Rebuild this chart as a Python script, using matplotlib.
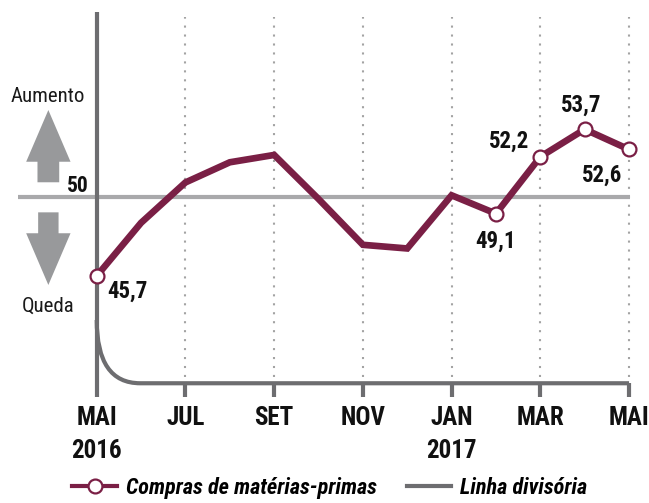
import matplotlib
matplotlib.use("Agg")
import matplotlib.pyplot as plt
from matplotlib import font_manager as fm
from matplotlib.patches import FancyArrow, PathPatch
from matplotlib.path import Path
from matplotlib.lines import Line2D

# procura uma fonte estreita instalada
available = {(f.name, f.stretch) for f in fm.fontManager.ttflist}
names = {n for n, s in available}
narrow_family = None
for fam in ['Liberation Sans Narrow', 'Roboto Condensed', 'Open Sans Condensed', 'Noto Sans Condensed']:
    if fam in names:
        narrow_family = fam
        break
condensed = [n for n, s in available if s in ('condensed', 'semi-condensed', 'extra-condensed')]
if narrow_family:
    plt.rcParams['font.family'] = [narrow_family, 'DejaVu Sans']
    scale = 1.0
elif condensed:
    plt.rcParams['font.family'] = [sorted(set(condensed))[0], 'DejaVu Sans']
    plt.rcParams['font.stretch'] = 'condensed'
    scale = 0.95
else:
    plt.rcParams['font.family'] = ['DejaVu Sans']
    scale = 0.78

# Dados (índice de compras de matérias-primas)
months = ['MAI', 'JUN', 'JUL', 'AGO', 'SET', 'OUT', 'NOV', 'DEZ', 'JAN', 'FEV', 'MAR', 'ABR', 'MAI']
values = [45.7, 48.6, 50.8, 51.9, 52.3, 49.9, 47.4, 47.2, 50.1, 49.1, 52.2, 53.7, 52.6]
years = {0: '2016', 8: '2017'}
marked = [0, 9, 10, 11, 12]
# deslocamento dos rótulos (px) e alinhamento
label_pos = {0: (11, -22, 'left'), 9: (0, -34, 'center'), 10: (-11, 9, 'right'),
             11: (-3, 18, 'center'), 12: (-7, -32, 'right')}
ref_level = 50

wine = '#7a1f45'
dark_gray = '#6d6d70'
light_gray = '#a9a9ab'
arrow_gray = '#98999b'

fig = plt.figure(figsize=(6.49, 5.03), dpi=100)
ax = fig.add_axes([0, 0, 1, 1])
ax.set_xlim(-2.18, 12.45)
ax.set_ylim(33.32, 60.75)
ax.axis('off')

x = list(range(len(months)))
base = 39.85
tick_bottom = 39.12

# linhas pontilhadas
for i in x[2::2]:
    ax.plot([i, i], [40.2, 59.8], color='#a3a3a3', lw=1.5, dashes=(1, 3.3), zorder=1)

# linha de 50
ax.plot([-1.77, 12.02], [ref_level, ref_level], color=light_gray, lw=3, solid_capstyle='butt', zorder=2)

# eixo vertical e curva inferior
ax.plot([0, 0], [60.08, tick_bottom], color=dark_gray, lw=3, solid_capstyle='butt', zorder=2)
frame = Path([(0, 43.3), (0, base), (0.98, base), (12, base)],
             [Path.MOVETO, Path.CURVE3, Path.CURVE3, Path.LINETO])
ax.add_patch(PathPatch(frame, facecolor='none', edgecolor=dark_gray, lw=3, zorder=2))
ax.vlines(x[2::2], tick_bottom, base, color=dark_gray, lw=3, zorder=2)

# setas
ax.add_patch(FancyArrow(-1.09, 50.81, 0, 3.94, width=0.49, head_width=1.0, head_length=2.82,
                        length_includes_head=True, color=arrow_gray, lw=0))
ax.add_patch(FancyArrow(-1.09, 49.17, 0, -3.96, width=0.46, head_width=1.0, head_length=2.82,
                        length_includes_head=True, color=arrow_gray, lw=0))
ax.text(-1.10, 55.19, 'Aumento', ha='center', va='baseline', fontsize=15 * scale, color='#1a1a1a')
ax.text(-1.10, 43.73, 'Queda', ha='center', va='baseline', fontsize=15 * scale, color='#1a1a1a')
ax.annotate('50', (0, ref_level), xytext=(-5.5, 3.6), textcoords='offset points',
            ha='right', va='baseline', fontsize=15.5 * scale, fontweight='bold', color='#111111')

# série
ax.plot(x, values, color=wine, lw=4.8, solid_joinstyle='miter', zorder=3)
ax.plot([x[i] for i in marked], [values[i] for i in marked], 'o', ms=10, mfc='white',
        mec=wine, mew=1.6, zorder=4)
for i in marked:
    dx, dy, ha = label_pos[i]
    ax.annotate(f'{values[i]:.1f}'.replace('.', ','), (x[i], values[i]),
                xytext=(dx * 0.72, dy * 0.72), textcoords='offset points',
                ha=ha, va='baseline', fontsize=16.5 * scale, fontweight='bold', color='#111111')

# rótulos do eixo x
for i in x[::2]:
    ax.text(i, 37.57, months[i], ha='center', va='baseline', fontsize=18 * scale,
            fontweight='bold', color='#111111')
for i, yr in years.items():
    ax.text(i, 35.79, yr, ha='center', va='baseline', fontsize=18 * scale,
            fontweight='bold', color='#111111')

handles = [Line2D([], [], color=wine, lw=3, marker='o', ms=10, mfc='white', mec=wine, mew=1.6),
           Line2D([], [], color=dark_gray, lw=3)]
fig.legend(handles, ['Compras de matérias-primas', 'Linha divisória'], loc='lower center',
           bbox_to_anchor=(0.508, -0.014), ncol=2, frameon=False, handlelength=2.0,
           handletextpad=0.4, columnspacing=1.35, borderpad=0,
           prop={'size': 16 * scale, 'style': 'italic', 'weight': 'bold'})

fig.savefig('out.png', dpi=100)
